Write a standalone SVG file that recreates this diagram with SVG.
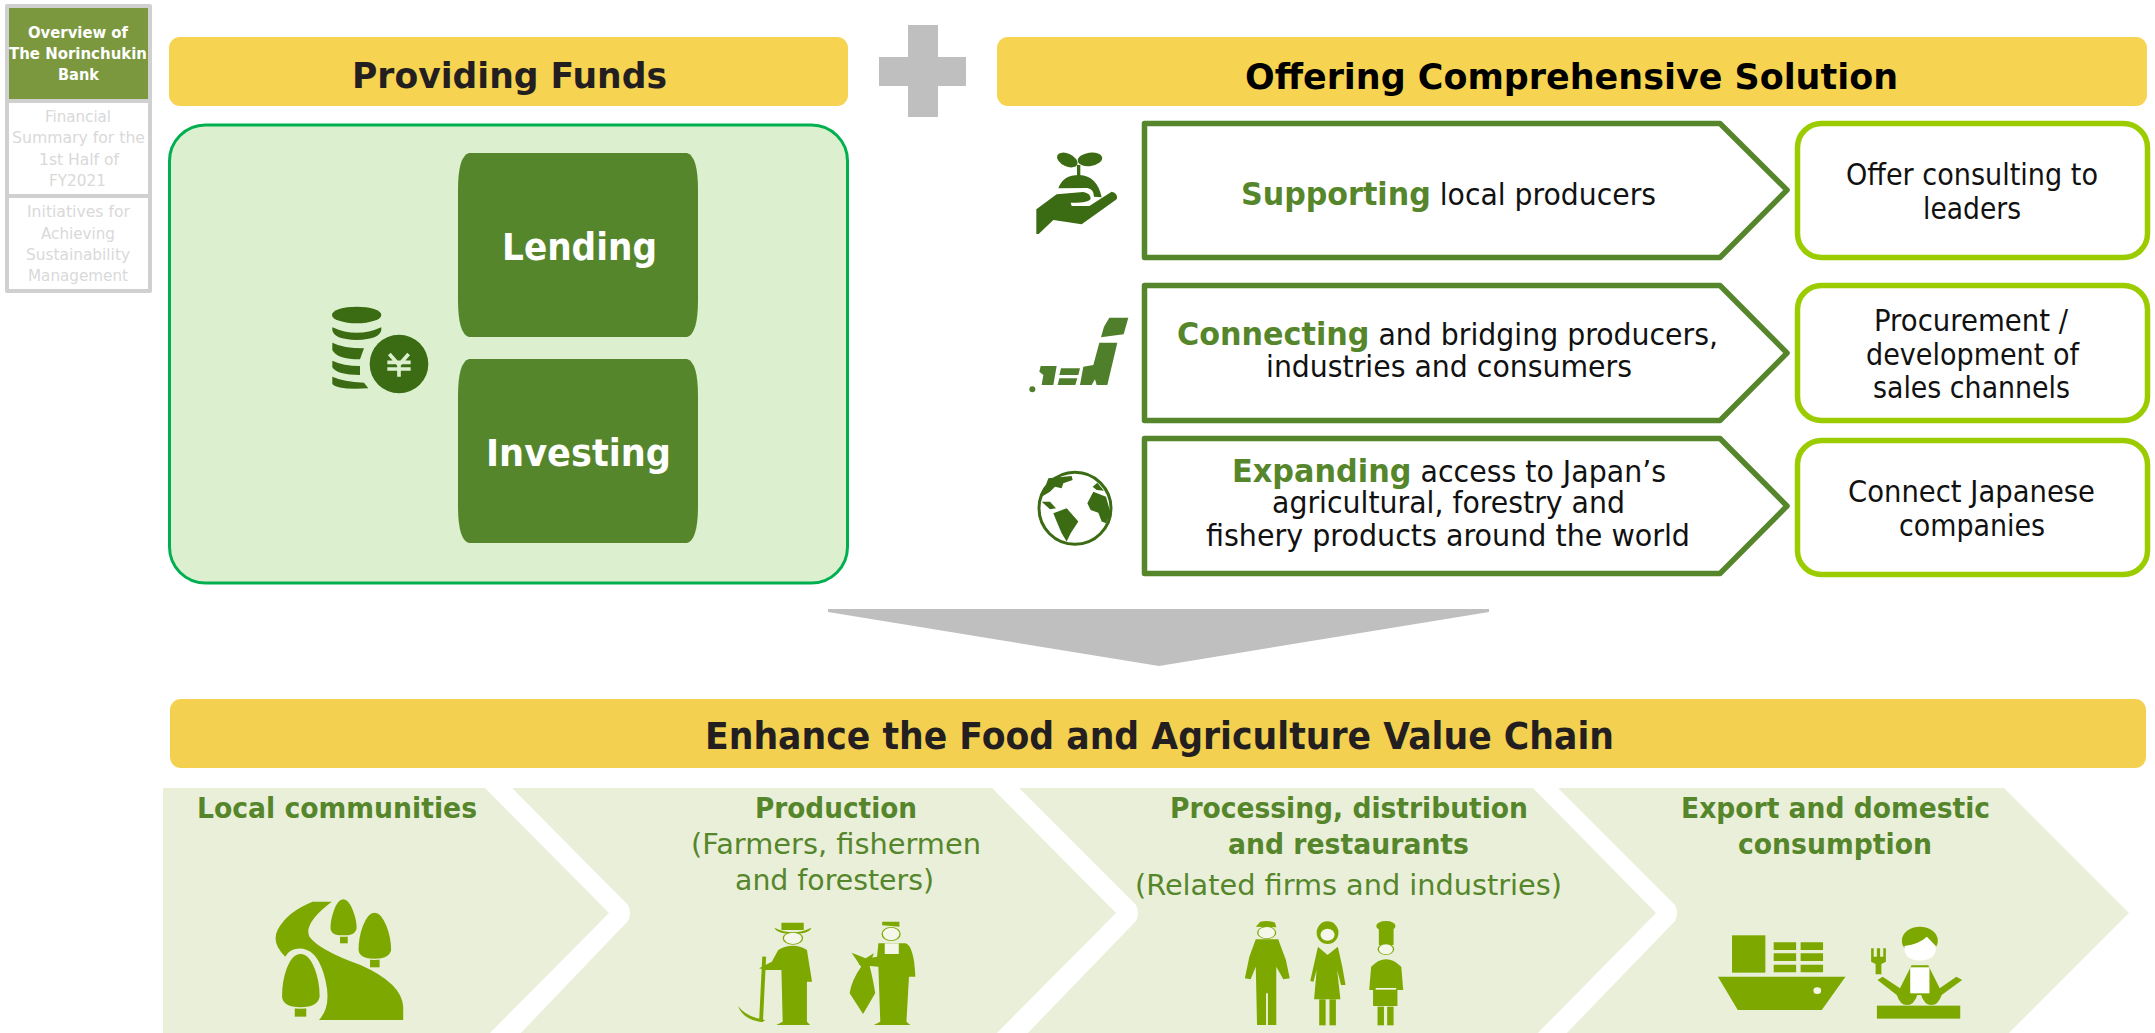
<svg xmlns="http://www.w3.org/2000/svg" width="2155" height="1033" viewBox="0 0 2155 1033">
<style>
text{font-family:"DejaVu Sans","Liberation Sans",sans-serif}
.bar{fill:#f6d350}
.ttl{font-weight:700;font-size:36px;fill:#231f20}
.nav{font-size:16.500px;fill:#d9d9d9}
.navb{font-size:16.500px;font-weight:700;fill:#fff}
.btn{fill:#56862b}
.btnt{font-size:37px;font-weight:700;fill:#fff}
.arr{fill:#fff;stroke:#56862b;stroke-width:5.5;stroke-linejoin:round}
.box{fill:#fff;stroke:#9bcc00;stroke-width:5.5}
.t{font-size:30px;fill:#111}
.g{font-weight:700;fill:#56862b}
.chev{fill:#e9efd8}
.ch{font-size:28px;fill:#56862b}
.chb{font-size:28px;font-weight:700;fill:#56862b}
.dk{fill:#3b6b12}
.ic{fill:#7ca800}
.hole{fill:#f4f7e9}
.tr{fill:#7ca800;stroke:#e9efd8;stroke-width:4}
</style>

<g id="sidebar">
<rect x="5" y="4" width="147" height="289" fill="#d0d0d0" rx="2"/>
<rect x="9" y="8" width="139" height="91" fill="#7c983f"/>
<rect x="9" y="103" width="139" height="91" fill="#fff"/>
<rect x="9" y="198" width="139" height="91" fill="#fff"/>
<text class="navb" x="28" y="38" textLength="100" lengthAdjust="spacingAndGlyphs">Overview of</text>
<text class="navb" x="9" y="59" textLength="138" lengthAdjust="spacingAndGlyphs">The Norinchukin</text>
<text class="navb" x="58" y="80" textLength="41" lengthAdjust="spacingAndGlyphs">Bank</text>
<text class="nav" x="45" y="122" textLength="66" lengthAdjust="spacingAndGlyphs">Financial</text>
<text class="nav" x="12" y="143" textLength="133" lengthAdjust="spacingAndGlyphs">Summary for the</text>
<text class="nav" x="39" y="165" textLength="80" lengthAdjust="spacingAndGlyphs">1st Half of</text>
<text class="nav" x="49" y="186" textLength="57" lengthAdjust="spacingAndGlyphs">FY2021</text>
<text class="nav" x="27" y="217" textLength="103" lengthAdjust="spacingAndGlyphs">Initiatives for</text>
<text class="nav" x="41" y="239" textLength="74" lengthAdjust="spacingAndGlyphs">Achieving</text>
<text class="nav" x="26" y="260" textLength="104" lengthAdjust="spacingAndGlyphs">Sustainability</text>
<text class="nav" x="28" y="281" textLength="100" lengthAdjust="spacingAndGlyphs">Management</text>
</g>

<g id="providing-funds">
<rect class="bar" x="169" y="37" width="679" height="69" rx="11"/>
<text class="ttl" x="352" y="88" textLength="315" lengthAdjust="spacingAndGlyphs">Providing Funds</text>
</g>

<g id="plus">
<path d="M908 25H938V57H966V86H938V117H908V86H879V57H908Z" fill="#bfbfbf"/>
</g>

<g id="offering">
<rect class="bar" x="997" y="37" width="1150" height="69" rx="11"/>
<text class="ttl" x="1245" y="89" textLength="653" lengthAdjust="spacingAndGlyphs" style="fill:#000">Offering Comprehensive Solution</text>
</g>

<g id="funds-panel">
<rect x="169.500" y="125" width="678" height="458" rx="36" fill="#dcefcf" stroke="#00b050" stroke-width="3"/>
</g>

<g id="coins">
<g transform="translate(300 130) scale(.3333)">
<ellipse class="dk" cx="170" cy="555" rx="74" ry="25"/>
<path class="dk" d="M97 592Q170 625 244 592V600Q240 628 170 630Q100 628 97 600Z"/>
<path class="dk" d="M97 638Q130 655 192 655L180 688Q110 688 97 660Z"/>
<path class="dk" d="M97 692Q130 708 180 708V735Q110 735 97 712Z"/>
<path class="dk" d="M97 740Q130 755 192 758L205 775Q110 780 97 762Z"/>
<circle class="dk" cx="297" cy="702" r="88" stroke="#dcefcf" stroke-width="0"/>
<path d="M268 672L297 705L326 672M262 697H332M262 717H332M297 705V740" fill="none" stroke="#dcefcf" stroke-width="11"/>
</g>
</g>

<g id="lending">
<path class="btn" d="M469 153H687Q698 156 698 190V300Q698 334 687 337H469Q458 334 458 300V190Q458 156 469 153Z"/>
<text class="btnt" x="502" y="260" textLength="155" lengthAdjust="spacingAndGlyphs">Lending</text>
</g>
<g id="investing">
<path class="btn" d="M469 359H687Q698 362 698 396V506Q698 540 687 543H469Q458 540 458 506V396Q458 362 469 359Z"/>
<text class="btnt" x="486" y="466" textLength="185" lengthAdjust="spacingAndGlyphs">Investing</text>
</g>

<g id="icon-hand">
<g transform="translate(1000 100) scale(.3333)">
<ellipse class="dk" cx="202" cy="180" rx="33" ry="19" transform="rotate(25 202 180)"/>
<ellipse class="dk" cx="270" cy="178" rx="37" ry="20" transform="rotate(-8 270 178)"/>
<path d="M236 195V232" stroke="#3b6b12" stroke-width="10" fill="none"/>
<path class="dk" d="M175 265Q188 225 238 225Q292 228 305 292L282 290Q282 268 262 264Z"/>
<path class="dk" d="M109 402V328L170 283L250 276Q272 280 272 296Q266 309 212 308L215 318H268L335 275Q355 280 350 298L245 373L160 360L116 402Z"/>
</g>
</g>

<g id="icon-japan">
<g transform="translate(1000 100) scale(.3333)" fill="#4f7f2b">
<path d="M328 653H385L371 703L303 712L312 680Z"/>
<path d="M298 728H352L322 855H290L285 838L275 855H240L250 800L280 795Z"/>
<path d="M183 805H240L235 825H178Z"/>
<path d="M178 835H232L226 855H173Z"/>
<path d="M122 798H170L160 855H125L130 825L118 815Z"/>
<circle cx="97" cy="868" r="9"/>
</g>
</g>

<g id="icon-globe">
<g transform="translate(1000 100) scale(.3333)">
<circle cx="225" cy="1225" r="108" fill="#fff" stroke="#3b6b12" stroke-width="9"/>
<path class="dk" d="M160 1240L200 1225L235 1265L212 1300L200 1325L185 1300L170 1265Z"/>
<path class="dk" d="M145 1135L215 1128L218 1140L190 1150L185 1165L165 1160L150 1175L125 1190Z"/>
<path class="dk" d="M125 1205L150 1205L168 1225L150 1228Z"/>
<path class="dk" d="M262 1210L280 1175L318 1190L332 1240L318 1270L305 1265L295 1238L272 1230Z"/>
<path class="dk" d="M278 1160L292 1148L312 1172L290 1170Z"/>
</g>
</g>

<g id="connectors">
<path d="M828 609H1489V612L1159 666L828 612Z" fill="#bfbfbf"/>
</g>

<g id="supporting">
<path class="arr" d="M1144.500 123.500H1720L1787 190L1720 257.500H1144.500Z"/>
<text class="t" x="1241" y="205" textLength="415" lengthAdjust="spacingAndGlyphs"><tspan class="g" style="font-size:32px">Supporting</tspan> local producers</text>
</g>
<g id="connecting">
<path class="arr" d="M1144.500 285.500H1720L1787 353L1720 420.500H1144.500Z"/>
<text class="t" x="1177" y="345" textLength="541" lengthAdjust="spacingAndGlyphs"><tspan class="g" style="font-size:32px">Connecting</tspan> and bridging producers,</text>
<text class="t" x="1266" y="377" textLength="366" lengthAdjust="spacingAndGlyphs">industries and consumers</text>
</g>
<g id="expanding">
<path class="arr" d="M1144.500 438.500H1720L1787 506L1720 573.500H1144.500Z"/>
<text class="t" x="1232" y="482" textLength="434" lengthAdjust="spacingAndGlyphs"><tspan class="g" style="font-size:32px">Expanding</tspan> access to Japan’s</text>
<text class="t" x="1272" y="513" textLength="353" lengthAdjust="spacingAndGlyphs">agricultural, forestry and</text>
<text class="t" x="1206" y="546" textLength="484" lengthAdjust="spacingAndGlyphs">fishery products around the world</text>
</g>

<g id="consulting">
<rect class="box" x="1797.500" y="123.500" width="350" height="134" rx="24"/>
<text class="t" x="1846" y="185" textLength="252" lengthAdjust="spacingAndGlyphs">Offer consulting to</text>
<text class="t" x="1923" y="219" textLength="98" lengthAdjust="spacingAndGlyphs">leaders</text>
</g>
<g id="procurement">
<rect class="box" x="1797.500" y="285.500" width="350" height="135" rx="24"/>
<text class="t" x="1874" y="331" textLength="194" lengthAdjust="spacingAndGlyphs">Procurement /</text>
<text class="t" x="1866" y="365" textLength="213" lengthAdjust="spacingAndGlyphs">development of</text>
<text class="t" x="1873" y="398" textLength="197" lengthAdjust="spacingAndGlyphs">sales channels</text>
</g>
<g id="connect-japanese">
<rect class="box" x="1797.500" y="440.500" width="350" height="134" rx="24"/>
<text class="t" x="1848" y="502" textLength="247" lengthAdjust="spacingAndGlyphs">Connect Japanese</text>
<text class="t" x="1899" y="536" textLength="146" lengthAdjust="spacingAndGlyphs">companies</text>
</g>

<g id="enhance">
<rect x="170" y="699" width="1976" height="69" rx="11" fill="#f4d050"/>
<text class="ttl" x="705" y="749" textLength="909" lengthAdjust="spacingAndGlyphs" style="font-size:37px">Enhance the Food and Agriculture Value Chain</text>
</g>

<g id="local-communities">
<path class="chev" d="M163 788H485L609 913L485 1038H163Z"/>
<text class="chb" x="197" y="818" textLength="280" lengthAdjust="spacingAndGlyphs">Local communities</text>
<g transform="translate(150 780) scale(.6378 .3333)">
<path class="ic" d="M255 365H285Q240 430 250 470Q265 510 330 555Q395 610 397 680V720H265Q285 680 275 600Q265 515 240 506Q220 502 212 530Q190 490 200 450Q215 395 255 365Z"/>
<rect class="ic" x="298" y="460" width="12" height="30"/>
<path class="tr" d="M303 356C318 356 326 420 326 445C324 465 314 468 303 468C292 468 282 465 281 445C281 420 288 356 303 356Z"/>
<rect class="ic" x="345" y="530" width="15" height="32"/>
<path class="tr" d="M352 396C370 396 380 470 380 510C378 532 366 538 352 538C338 538 326 532 325 510C325 470 334 396 352 396Z"/>
<rect class="ic" x="227" y="678" width="18" height="32"/>
<path class="tr" d="M236 520C258 520 268 600 268 650C266 676 252 684 236 684C220 684 206 676 205 650C205 600 214 520 236 520Z"/>
</g>
</g>

<g id="production">
<path class="chev" d="M512 788H992L1116 913L992 1038H516L628 921Q632 913 628 905Z"/>
<text class="chb" x="755" y="818" textLength="162" lengthAdjust="spacingAndGlyphs">Production</text>
<text class="ch" x="691" y="854" textLength="290" lengthAdjust="spacingAndGlyphs">(Farmers, fishermen</text>
<text class="ch" x="735" y="890" textLength="199" lengthAdjust="spacingAndGlyphs">and foresters)</text>
<g transform="translate(150 780) scale(.6378 .3333)">
<path class="ic" d="M979 443Q1008 470 1037 443Q1035 460 1008 462Q982 460 979 443ZM990 450V428H1025V450Z"/>
<ellipse cx="1008" cy="475" rx="15" ry="18" fill="#f4f7e9" stroke="#7ca800" stroke-width="2"/>
<path class="ic" d="M985 510Q1008 485 1030 510L1038 605H1030V725L1035 735H982L992 725L990 570H965L955 565L975 545Z"/>
<path d="M963 530L958 725" stroke="#7ca800" stroke-width="6" fill="none"/>
<path class="ic" d="M922 678Q935 712 965 720L960 726Q930 720 922 678Z"/>
<path class="ic" d="M1148 425H1175V440L1148 436Z"/>
<ellipse cx="1162" cy="462" rx="14" ry="20" fill="#f4f7e9" stroke="#7ca800" stroke-width="2"/>
<path class="ic" d="M1142 490H1185Q1198 500 1200 590H1190L1186 725L1192 735H1135L1145 725L1142 560L1112 555L1110 540L1140 530Z"/>
<rect class="hole" x="1152" y="490" width="22" height="32"/>
<path class="ic" d="M1100 518L1122 535L1135 520L1128 555Q1135 610 1137 640L1118 702L1097 640Q1100 600 1115 560Z"/>
</g>
</g>

<g id="processing">
<path class="chev" d="M1019 788H1533L1656 913L1533 1038H1023L1136 921Q1140 913 1136 905Z"/>
<text class="chb" x="1170" y="818" textLength="358" lengthAdjust="spacingAndGlyphs">Processing, distribution</text>
<text class="chb" x="1228" y="854" textLength="241" lengthAdjust="spacingAndGlyphs">and restaurants</text>
<text class="ch" x="1135" y="895" textLength="427" lengthAdjust="spacingAndGlyphs">(Related firms and industries)</text>
<g transform="translate(1150 780) scale(.641 .3333)">
<path class="ic" d="M165 440L172 425Q185 420 195 428L197 442Z"/>
<ellipse cx="182" cy="458" rx="14" ry="18" fill="#f4f7e9" stroke="#7ca800" stroke-width="2"/>
<path class="ic" d="M165 478H200L212 540L218 595L208 598L197 560V735H184V640H181V735H167L165 560L157 598L148 595L155 530Z"/>
<ellipse class="ic" cx="277" cy="458" rx="17" ry="34"/>
<ellipse cx="277" cy="464" rx="11" ry="18" fill="#f4f7e9"/>
<path class="ic" d="M262 500L277 525L293 500L300 560L305 615L298 615L292 570L297 658H256L260 570L255 605L250 603Z"/>
<rect class="ic" x="264" y="658" width="10" height="78"/>
<rect class="ic" x="280" y="658" width="10" height="78"/>
<circle class="ic" cx="368" cy="438" r="15"/>
<rect class="ic" x="357" y="440" width="23" height="55"/>
<ellipse cx="368" cy="508" rx="12" ry="16" fill="#f4f7e9" stroke="#7ca800" stroke-width="2"/>
<path class="ic" d="M345 560Q368 515 392 560L395 630H386V678H348V630H342Z"/>
<rect class="ic" x="355" y="680" width="10" height="56"/>
<rect class="ic" x="370" y="680" width="10" height="56"/>
<rect class="hole" x="352" y="624" width="32" height="5"/>
</g>
</g>

<g id="export">
<path class="chev" d="M1558 788H2004L2129 913L2004 1038H1562L1675 921Q1679 913 1675 905Z"/>
<text class="chb" x="1681" y="818" textLength="309" lengthAdjust="spacingAndGlyphs">Export and domestic</text>
<text class="chb" x="1738" y="854" textLength="194" lengthAdjust="spacingAndGlyphs">consumption</text>
<g transform="translate(1150 780) scale(.641 .3333)">
<rect class="ic" x="908" y="466" width="52" height="112"/>
<path class="ic" d="M973 487h35v23h-35zM973 520h35v23h-35zM973 554h35v23h-35zM1015 487h35v23h-35zM1015 520h35v23h-35zM1015 554h35v23h-35z"/>
<path class="ic" d="M886 590H1085L1048 690H917Z"/>
<ellipse cx="1041" cy="632" rx="6" ry="10" fill="#f4f7e9"/>
<ellipse class="ic" cx="1201" cy="482" rx="28" ry="42"/>
<path d="M1177 498Q1200 492 1212 470Q1222 490 1226 498Q1228 540 1201 542Q1175 540 1177 498Z" fill="#fff"/>
<path class="ic" d="M1125 505H1129V530H1134V505H1139V530H1144V505H1148V545L1141 552V583H1132V552L1125 545Z"/>
<path class="ic" d="M1135 600L1143 590L1170 625L1188 556H1214L1232 625L1258 590L1267 600L1235 645H1165Z"/>
<rect x="1186" y="562" width="30" height="78" fill="#fff"/>
<path class="ic" d="M1165 645H1197Q1192 675 1181 675Q1170 675 1165 645ZM1203 645H1235Q1230 675 1219 675Q1208 675 1203 645Z"/>
<rect class="ic" x="1134" y="677" width="130" height="39"/>
</g>
</g>
</svg>
